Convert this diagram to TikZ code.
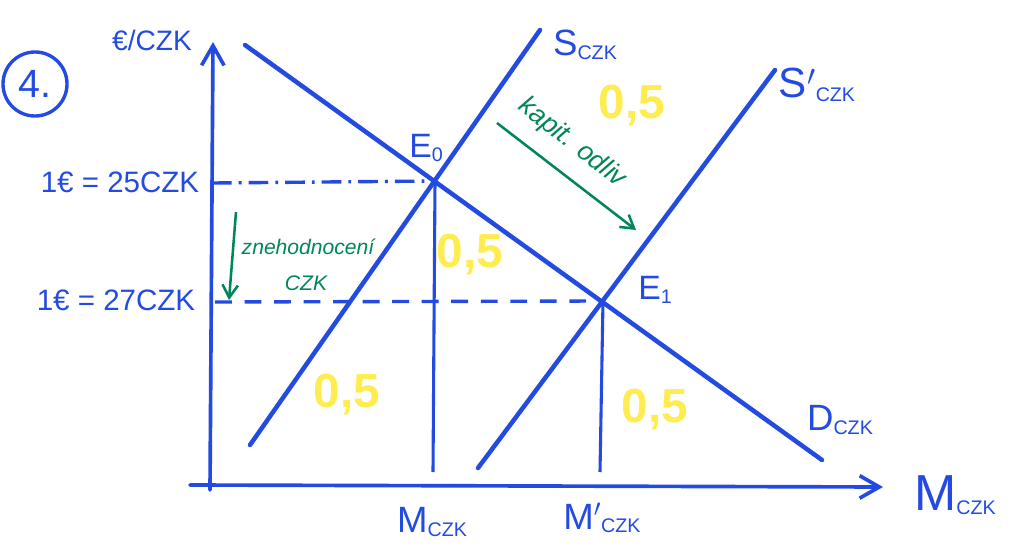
\documentclass[tikz,border=0pt]{standalone}
\usepackage{fontspec}
\setmainfont{Liberation Sans}
\usetikzlibrary{arrows.meta}
\definecolor{pen}{RGB}{35,75,225}
\definecolor{hl}{RGB}{255,236,80}
\definecolor{gpen}{RGB}{0,135,85}
\newcommand{\fs}[1]{\fontsize{#1}{#1}\selectfont}
\newcommand{\sublab}[3]{{\fs{#1}#2}\raisebox{-0.12em}{\fs{14}#3}}
\begin{document}
\begin{tikzpicture}[x=0.025cm,y=-0.025cm,
  axis/.style={pen,line width=2.6pt,line cap=round,-{Straight Barb[length=14pt,width=16pt,line width=2.6pt]}},
  curve/.style={pen,line width=3.2pt,line cap=round},
  guide/.style={pen,line width=2.4pt,dash pattern=on 12pt off 9pt},
  guidedot/.style={pen,line width=2.4pt,dash pattern=on 14pt off 5pt on 2pt off 5pt},
  drop/.style={pen,line width=2.2pt},
  lbl/.style={text=pen,font=\fs{20},inner sep=1pt},
  yel/.style={text=hl,font=\fs{34}\bfseries,inner sep=0pt},
  gtxt/.style={text=gpen,font=\fs{15}\itshape,inner sep=1pt},
  garrow/.style={gpen,line width=1.8pt,-{Straight Barb[length=9pt,width=11pt,line width=1.8pt]}}]
\useasboundingbox (0,0) rectangle (1014,552);

% axes
\coordinate (yb) at (210,490);
\coordinate (yt) at (213,42);
\coordinate (xl) at (190,485);
\coordinate (xr) at (883,487);
\draw[axis] (yb) -- (yt);
\draw[axis] (xl) -- (xr);

% curves
\coordinate (d1) at (245,45);  \coordinate (d2) at (822,460);
\coordinate (s1) at (250,445); \coordinate (s2) at (540,30);
\coordinate (t1) at (478,468); \coordinate (t2) at (775,70);
\draw[curve] (d1) -- (d2);
\draw[curve] (s1) -- (s2);
\draw[curve] (t1) -- (t2);

% equilibria
\coordinate (E0) at (435,181);
\coordinate (E1) at (603,301);
\coordinate (h0) at (212,183);
\coordinate (h1) at (215,302);
\coordinate (v0) at (433,472);
\coordinate (v1) at (600,472);
\draw[guidedot] (h0) -- (E0);
\draw[guide] (h1) -- (E1);
\draw[drop] (E0) -- (v0);
\draw[drop] (E1) -- (v1);

% labels
\node[draw=pen,circle,line width=2.4pt,minimum size=1.6cm,text=pen,font=\fs{28}] (num) at (35,84) {4.};
\node[lbl] (yl) at (152,40) {€/CZK};
\node[lbl,font=\fs{21}] (p0) at (120,182) {1€ = 25CZK};
\node[lbl,font=\fs{21}] (p1) at (116,300) {1€ = 27CZK};
\node[lbl] (le0) at (426,148) {\sublab{24}{E}{0}};
\node[lbl] (le1) at (655,290) {\sublab{24}{E}{1}};
\node[lbl] (ls) at (585,45) {\sublab{26}{S}{CZK}};
\node[lbl] (lt) at (817,85) {\sublab{30}{S$'$}{CZK}};
\node[lbl] (ld) at (840,420) {\sublab{26}{D}{CZK}};
\node[lbl] (lx) at (955,495) {\sublab{36}{M}{CZK}};
\node[lbl] (m0) at (432,522) {\sublab{26}{M}{CZK}};
\node[lbl] (m1) at (602,518) {\sublab{26}{M$'$}{CZK}};

% yellow
\node[yel] (q1) at (632,106) {0,5};
\node[yel] (q2) at (470,255) {0,5};
\node[yel] (q3) at (347,395) {0,5};
\node[yel] (q4) at (655,410) {0,5};

% green annotations
\coordinate (ka) at (497,123);
\coordinate (kb) at (636,230);
\draw[garrow] (ka) -- (kb);
\node[gtxt,font=\fs{19}\itshape,rotate=-38] (kt) at (572,143) {kapit. odliv};
\coordinate (za) at (236,212);
\coordinate (zb) at (229,300);
\draw[garrow] (za) -- (zb);
\node[gtxt] (zt1) at (308,247) {znehodnocení};
\node[gtxt] (zt2) at (306,283) {CZK};
\end{tikzpicture}
\end{document}
